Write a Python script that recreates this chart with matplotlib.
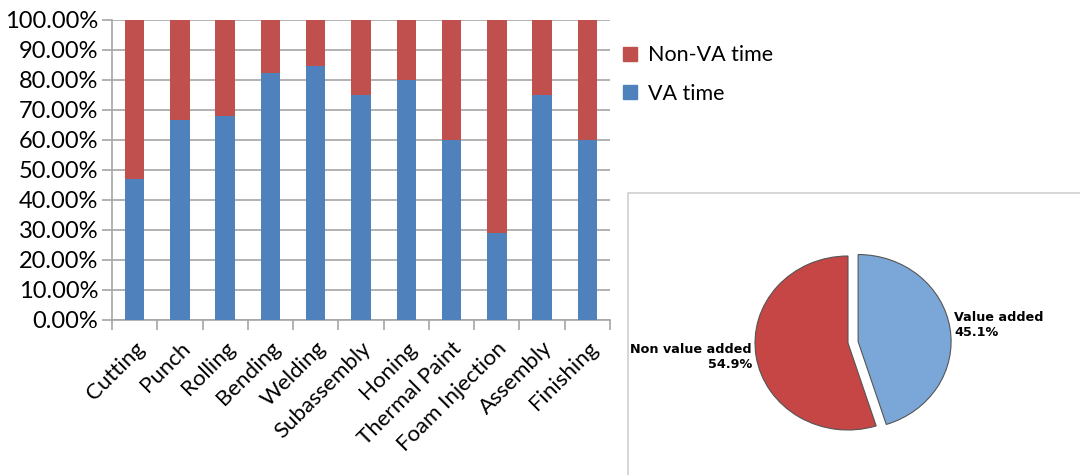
import matplotlib
matplotlib.use("Agg")
import matplotlib.pyplot as plt
import numpy as np
from matplotlib.patches import Rectangle, Patch

categories = ["Cutting", "Punch", "Rolling", "Bending", "Welding", "Subassembly",
              "Honing", "Thermal Paint", "Foam Injection", "Assembly", "Finishing"]
va_time = [47.0, 66.7, 68.0, 82.5, 84.6, 75.0, 80.0, 60.0, 29.0, 75.0, 60.0]
non_va_time = [100 - v for v in va_time]
ytick_values = [0, 10, 20, 30, 40, 50, 60, 70, 80, 90, 100]

pie_labels = ["Value added", "Non value added"]
pie_values = [45.1, 54.9]

BLUE = "#4F81BD"
RED = "#C0504D"
PIE_BLUE = "#7BA6D8"
PIE_RED = "#C64545"
GRID = "#A6A6A6"

W, H = 1080, 475
fig = plt.figure(figsize=(W / 100, H / 100), dpi=100)
fig.patch.set_facecolor("white")

FONT = "Lato"

# ---- bar chart ----
L, R, T, B = 112, 610, 20, 320
ax = fig.add_axes([L / W, 1 - B / H, (R - L) / W, (B - T) / H])
x = np.arange(len(categories))
bw = 0.43
b1 = ax.bar(x, va_time, width=bw, color=BLUE, zorder=3)
b2 = ax.bar(x, non_va_time, bottom=va_time, width=bw, color=RED, zorder=3)
ax.set_xlim(-0.5, len(categories) - 0.5)
ax.set_ylim(0, 100)
ax.set_yticks(ytick_values)
ax.set_yticklabels([f"{v:.2f}%" for v in ytick_values], fontsize=17, family=FONT)
ax.yaxis.grid(True, color=GRID, linewidth=1.2, zorder=0)
ax.set_axisbelow(True)
for s in ["top", "right"]:
    ax.spines[s].set_visible(False)
for s in ["left", "bottom"]:
    ax.spines[s].set_color(GRID)
    ax.spines[s].set_linewidth(1.2)
ax.tick_params(axis="y", length=7, width=1.2, color=GRID, pad=3)
# category boundary ticks
ax.set_xticks(np.arange(len(categories) + 1) - 0.5, minor=False)
ax.set_xticklabels([])
ax.tick_params(axis="x", which="major", length=7, width=1.2, color=GRID)
ax.set_xticks(x, minor=True)
ax.set_xticklabels(categories, minor=True, rotation=45, ha="right",
                   rotation_mode="anchor", fontsize=16, family=FONT)
ax.tick_params(axis="x", which="minor", length=0, pad=13)

fig.legend(handles=[Patch(color=RED), Patch(color=BLUE)],
           labels=["Non-VA time", "VA time"],
           loc="upper left", bbox_to_anchor=(604 / W, 1 - 26 / H),
           frameon=False, handlelength=0.65, handleheight=0.65,
           handletextpad=0.5, labelspacing=0.85,
           prop={"family": FONT, "size": 15.5})

# ---- pie chart ----
fig.patches.append(Rectangle((628 / W, -0.01), 0.5, 1 - 193 / H + 0.01,
                             transform=fig.transFigure, fill=False,
                             edgecolor="#D0D0D0", linewidth=1.2))
PL, PT = 629, 194
ax2 = fig.add_axes([PL / W, 0, (W - PL) / W, (H - PT) / H])
ax2.pie(pie_values, colors=[PIE_BLUE, PIE_RED], startangle=90, counterclock=False,
        explode=[0.11, 0], wedgeprops=dict(edgecolor="#555555", linewidth=0.8))
cx, cy, rx, ry = 848, 343, 93, 87
ax2.set_aspect("auto")
ax2.set_xlim(-(cx - PL) / rx, (W - cx) / rx)
ax2.set_ylim(-(H - cy) / ry, (cy - PT) / ry)
ax2.axis("off")
ax2.text((954 - cx) / rx, (cy - 325) / ry,
         f"{pie_labels[0]}\n{pie_values[0]}%", ha="left", va="center",
         fontsize=9.2, fontweight="bold", family="DejaVu Sans", linespacing=1.15)
ax2.text((752 - cx) / rx, (cy - 357) / ry,
         f"{pie_labels[1]}\n{pie_values[1]}%", ha="right", va="center",
         fontsize=9.2, fontweight="bold", family="DejaVu Sans", linespacing=1.15,
         multialignment="right")

fig.savefig("out.png", dpi=100)
